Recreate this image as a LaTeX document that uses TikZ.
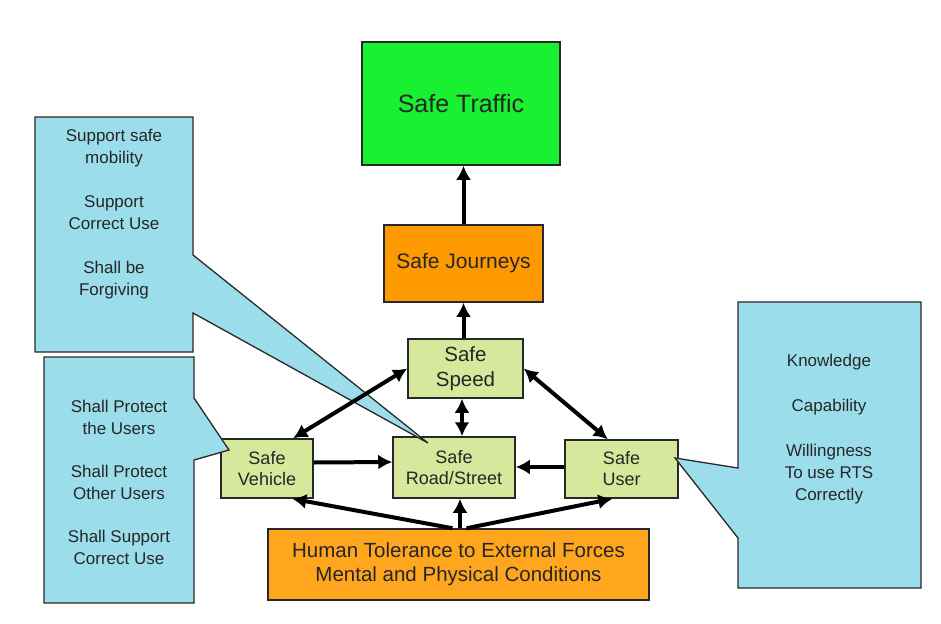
\documentclass[tikz,border=0pt]{standalone}
\usepackage{fontspec}
\setmainfont{Liberation Sans}
\usetikzlibrary{arrows.meta,calc}
\definecolor{trafficgreen}{RGB}{25,240,50}
\definecolor{journeyorange}{RGB}{255,153,0}
\definecolor{humanorange}{RGB}{255,165,30}
\definecolor{boxgreen}{RGB}{214,232,156}
\definecolor{calloutblue}{RGB}{156,221,236}
\definecolor{edgegray}{RGB}{40,40,40}
\begin{document}
\begin{tikzpicture}[x=1pt,y=-1pt,
  box/.style={draw=edgegray,line width=1.5pt,inner sep=0pt,align=center,text=black!85},
  callout/.style={draw=edgegray,line width=1.3pt,fill=calloutblue,line join=miter},
  callouttext/.style={align=center,font=\fontsize{17}{22}\selectfont,text=black!85},
  link/.style={line width=4pt,-{Latex[length=14pt,width=15pt]}},
  dlink/.style={line width=4pt,{Latex[length=14pt,width=15pt]}-{Latex[length=14pt,width=15pt]}},
]
\useasboundingbox (0,0) rectangle (941,623);
\fill[white] (0,0) rectangle (941,623);

% boxes
\node[box,fill=trafficgreen,minimum width=198pt,minimum height=123pt,font=\fontsize{25}{28}\selectfont] (traffic) at (461,103.5) {Safe Traffic};
\node[box,fill=journeyorange,minimum width=159pt,minimum height=77pt,font=\fontsize{21}{24}\selectfont] (journeys) at (463.5,263.5) {Safe Journeys};
\node[box,fill=boxgreen,minimum width=115pt,minimum height=59pt,font=\fontsize{20.5}{25}\selectfont] (speed) at (465.5,368.5) {Safe\\Speed};
\node[box,fill=boxgreen,minimum width=122pt,minimum height=61pt,font=\fontsize{18}{21}\selectfont] (road) at (454,467.5) {Safe\\Road/Street};
\node[box,fill=boxgreen,minimum width=113pt,minimum height=58pt,font=\fontsize{18}{21}\selectfont] (user) at (621.5,469) {Safe\\User};
\node[box,fill=boxgreen,minimum width=92pt,minimum height=59pt,font=\fontsize{18}{21}\selectfont] (veh) at (267,468.5) {Safe\\Vehicle};
\node[box,fill=humanorange,minimum width=381pt,minimum height=71pt,font=\fontsize{20.5}{24}\selectfont] (hum) at (458.5,564.5) {Human Tolerance to External Forces\\Mental and Physical Conditions};

% callouts
\draw[callout] (35,117) -- (193,117) -- (193,255) -- (428,443) -- (193,313) -- (193,352) -- (35,352) -- cycle;
\draw[callout] (44,357) -- (194,357) -- (194,398) -- (229,450) -- (194,460) -- (194,603) -- (44,603) -- cycle;
\draw[callout] (738,302) -- (921,302) -- (921,588) -- (738,588) -- (738,538) -- (675,458) -- (738,468) -- cycle;

\node[callouttext] (roadnote) at (114,214) {Support safe\\mobility\\[22pt]Support\\Correct Use\\[22pt]Shall be\\Forgiving};
\node[callouttext] (vehnote) at (119,482) {Shall Protect\\the Users\\[21pt]Shall Protect\\Other Users\\[21pt]Shall Support\\Correct Use};
\node[callouttext] (usernote) at (829,429) {Knowledge\\[23pt]Capability\\[23pt]Willingness\\To use RTS\\Correctly};

% connectors
\draw[link] (journeys.north) -- (journeys.north |- traffic.south);
\draw[link] (journeys.south |- speed.north) -- (journeys.south);
\draw[dlink] ($(road.north)+(8,0)$) -- ($(speed.south)+(-3.5,0)$);
\draw[dlink] (speed.west) -- ($(veh.north west)!0.78!(veh.north east)$);
\draw[dlink] (speed.east) -- ($(user.north west)!0.38!(user.north east)$);
\draw[link] ($(veh.east)+(0,-6)$) -- ($(road.west)+(0,-5.5)$);
\draw[link] ($(user.west)+(0,-2)$) -- ($(road.east)+(0,-0.5)$);
\draw[link] ($(hum.north)+(1.5,0)$) -- ($(road.south)+(6,0)$);
\draw[link] ($(hum.north)+(-6,0)$) -- ($(veh.south west)!0.77!(veh.south east)$);
\draw[link] ($(hum.north)+(8,0)$) -- ($(user.south west)!0.42!(user.south east)$);
\end{tikzpicture}
\end{document}
